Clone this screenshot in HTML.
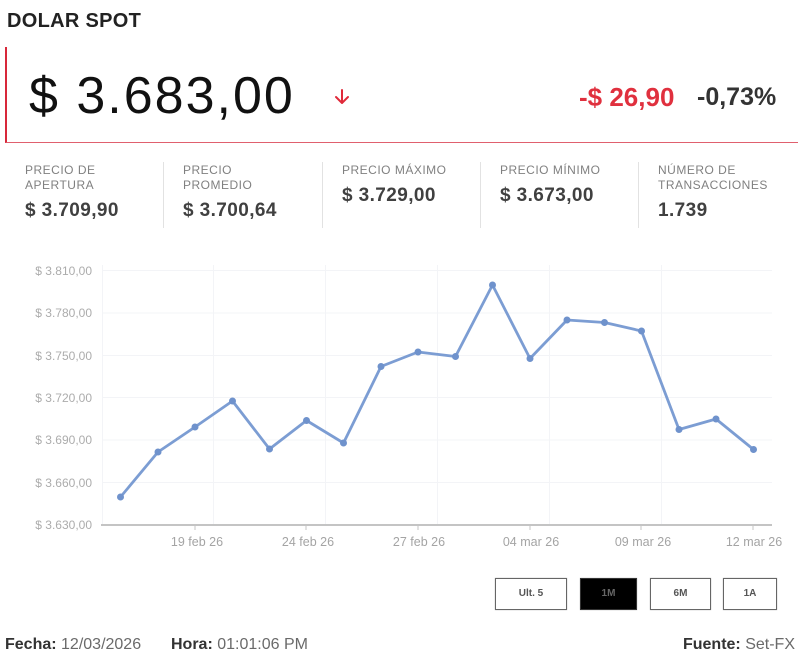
<!DOCTYPE html>
<html><head><meta charset="utf-8"><style>
html,body{margin:0;padding:0;background:#fff;}
body{width:800px;height:666px;position:relative;overflow:hidden;font-family:"Liberation Sans",sans-serif;}
.abs{position:absolute;white-space:nowrap;}
.title{left:7px;top:10px;font-size:20px;font-weight:bold;color:#222;letter-spacing:0.3px;}
.box{position:absolute;left:5px;top:47px;width:791px;height:95px;border-left:2px solid #d8283a;border-bottom:1px solid #e0606e;}
.price{left:29px;top:66px;font-size:52px;color:#111;letter-spacing:2px;line-height:60px;}
.chg{left:579px;top:82px;font-size:26px;font-weight:bold;color:#e0303e;line-height:30px;}
.pct{left:697px;top:82px;font-size:25px;font-weight:bold;color:#333;line-height:30px;}
.lbl{font-size:12px;color:#808080;letter-spacing:0.5px;line-height:15px;}
.val{font-size:19px;font-weight:bold;color:#404040;letter-spacing:0.4px;line-height:22px;}
.sep{position:absolute;top:162px;width:1px;height:66px;background:#e2e2e2;}
.btn{position:absolute;top:578px;height:30px;border:1.5px solid #666;box-shadow:0 0 1px #aaa;font-size:10px;font-weight:bold;color:#555;text-align:center;line-height:30px;box-sizing:content-box;}
.foot{top:635px;font-size:16px;color:#6a6a6a;line-height:20px;}
.foot b{color:#333;}
</style></head><body>
<div class="abs title">DOLAR SPOT</div>
<div class="box"></div>
<div class="abs price">$ 3.683,00</div>
<svg class="abs" style="left:332px;top:88px" width="20" height="18" xmlns="http://www.w3.org/2000/svg">
<g stroke="#e02a3a" stroke-width="2" fill="none" stroke-linecap="round" stroke-linejoin="round">
<line x1="10" y1="2" x2="10" y2="14"/>
<polyline points="4,9 10,15 16,9"/>
</g>
</svg>
<div class="abs chg">-$ 26,90</div>
<div class="abs pct">-0,73%</div>

<div class="abs lbl" style="left:25px;top:163px;">PRECIO DE<br>APERTURA</div>
<div class="abs val" style="left:25px;top:200px;">$ 3.709,90</div>
<div class="sep" style="left:163px;"></div>
<div class="abs lbl" style="left:183px;top:163px;">PRECIO<br>PROMEDIO</div>
<div class="abs val" style="left:183px;top:200px;">$ 3.700,64</div>
<div class="sep" style="left:322px;"></div>
<div class="abs lbl" style="left:342px;top:163px;">PRECIO MÁXIMO</div>
<div class="abs val" style="left:342px;top:185px;">$ 3.729,00</div>
<div class="sep" style="left:480px;"></div>
<div class="abs lbl" style="left:500px;top:163px;">PRECIO MÍNIMO</div>
<div class="abs val" style="left:500px;top:185px;">$ 3.673,00</div>
<div class="sep" style="left:638px;"></div>
<div class="abs lbl" style="left:658px;top:163px;">NÚMERO DE<br>TRANSACCIONES</div>
<div class="abs val" style="left:658px;top:200px;">1.739</div>

<svg class="abs" style="left:0;top:0" width="800" height="666" xmlns="http://www.w3.org/2000/svg">
<g stroke="#f3f4f7" stroke-width="1">
<line x1="102" y1="270.5" x2="772" y2="270.5"/>
<line x1="102" y1="313" x2="772" y2="313"/>
<line x1="102" y1="355.5" x2="772" y2="355.5"/>
<line x1="102" y1="397.5" x2="772" y2="397.5"/>
<line x1="102" y1="440" x2="772" y2="440"/>
<line x1="102" y1="482.5" x2="772" y2="482.5"/>
<line x1="102.5" y1="265" x2="102.5" y2="525"/>
<line x1="213.5" y1="265" x2="213.5" y2="525"/>
<line x1="325.5" y1="265" x2="325.5" y2="525"/>
<line x1="437.5" y1="265" x2="437.5" y2="525"/>
<line x1="549.5" y1="265" x2="549.5" y2="525"/>
<line x1="661.5" y1="265" x2="661.5" y2="525"/>
</g>
<line x1="101" y1="525" x2="772" y2="525" stroke="#c4c4c4" stroke-width="2"/>
<g stroke="#c4c4c4" stroke-width="1">
<line x1="195" y1="525" x2="195" y2="530"/>
<line x1="306" y1="525" x2="306" y2="530"/>
<line x1="418" y1="525" x2="418" y2="530"/>
<line x1="530" y1="525" x2="530" y2="530"/>
<line x1="641" y1="525" x2="641" y2="530"/>
<line x1="753" y1="525" x2="753" y2="530"/>
</g>
<g font-family="Liberation Sans, sans-serif" font-size="12" fill="#acacac" text-anchor="end">
<text x="92" y="275">$ 3.810,00</text>
<text x="92" y="317">$ 3.780,00</text>
<text x="92" y="360">$ 3.750,00</text>
<text x="92" y="402">$ 3.720,00</text>
<text x="92" y="444">$ 3.690,00</text>
<text x="92" y="487">$ 3.660,00</text>
<text x="92" y="529">$ 3.630,00</text>
</g>
<g font-family="Liberation Sans, sans-serif" font-size="12.5" fill="#a4a4a4" text-anchor="middle">
<text x="197" y="546">19 feb 26</text>
<text x="308" y="546">24 feb 26</text>
<text x="419" y="546">27 feb 26</text>
<text x="531" y="546">04 mar 26</text>
<text x="643" y="546">09 mar 26</text>
<text x="754" y="546">12 mar 26</text>
</g>
<polyline fill="none" stroke="#7c9dd3" stroke-width="2.8" stroke-linejoin="round" points="120.5,497 158,452 195,427 232.5,401 269.5,449 306.5,420.5 343.5,443 381,366.5 418,352 455.5,356.5 492.5,285 530,358.5 567,320 604.5,322.5 641.5,331 679,429.5 716,419 753.5,449.5"/>
<g fill="#6f92cc">
<circle cx="120.5" cy="497" r="3.5"/><circle cx="158" cy="452" r="3.5"/><circle cx="195" cy="427" r="3.5"/><circle cx="232.5" cy="401" r="3.5"/><circle cx="269.5" cy="449" r="3.5"/><circle cx="306.5" cy="420.5" r="3.5"/><circle cx="343.5" cy="443" r="3.5"/><circle cx="381" cy="366.5" r="3.5"/><circle cx="418" cy="352" r="3.5"/><circle cx="455.5" cy="356.5" r="3.5"/><circle cx="492.5" cy="285" r="3.5"/><circle cx="530" cy="358.5" r="3.5"/><circle cx="567" cy="320" r="3.5"/><circle cx="604.5" cy="322.5" r="3.5"/><circle cx="641.5" cy="331" r="3.5"/><circle cx="679" cy="429.5" r="3.5"/><circle cx="716" cy="419" r="3.5"/><circle cx="753.5" cy="449.5" r="3.5"/>
</g>
</svg>

<div class="btn" style="left:495px;width:70px;">Ult. 5</div>
<div class="btn" style="left:580px;width:55px;background:#000;border-color:#333;color:#666;">1M</div>
<div class="btn" style="left:650px;width:59px;">6M</div>
<div class="btn" style="left:723px;width:52px;">1A</div>

<div class="abs foot" style="left:5px;"><b>Fecha:</b> 12/03/2026</div>
<div class="abs foot" style="left:171px;"><b>Hora:</b> 01:01:06 PM</div>
<div class="abs foot" style="right:5px;"><b>Fuente:</b> Set-FX</div>
</body></html>
